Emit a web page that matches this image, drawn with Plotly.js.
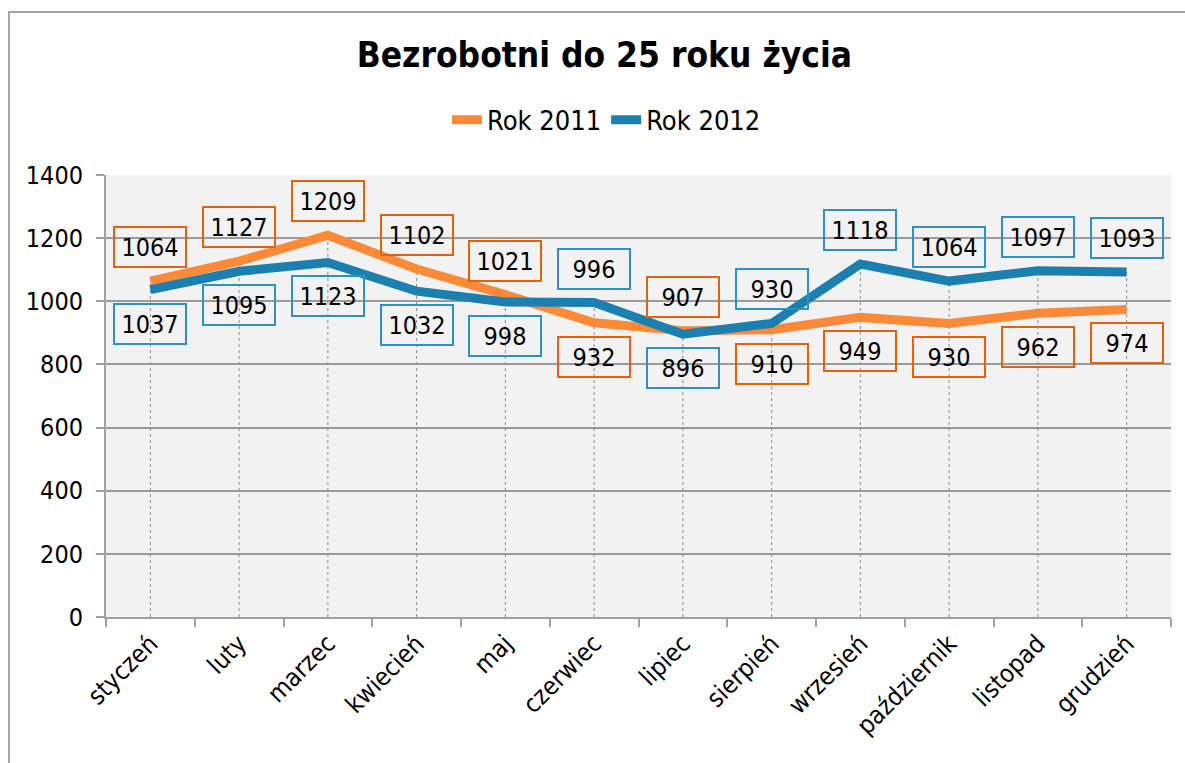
<!DOCTYPE html>
<html>
<head>
<meta charset="utf-8">
<script src="https://cdn.plot.ly/plotly-3.0.1.min.js"></script>
<style>
html,body{margin:0;padding:0;background:#fff;}
#chart{width:1185px;height:763px;}
</style>
</head>
<body>
<div id="chart"></div>
<script>
const months = ["styczeń","luty","marzec","kwiecień","maj","czerwiec","lipiec","sierpień","wrzesień","październik","listopad","grudzień"];
const rok2011 = [1064,1127,1209,1102,1021,932,907,910,949,930,962,974];
const rok2012 = [1037,1095,1123,1032,998,996,896,930,1118,1064,1097,1093];
const yTicks = [0,200,400,600,800,1000,1200,1400];
const seriesNames = ["Rok 2011","Rok 2012"];

const FONT = "'DejaVu Sans Condensed', 'DejaVu Sans', sans-serif";
const ORANGE = "#fb8a38";
const BLUE = "#1b7fb0";
const ORANGE_BOX = "#e5620c";
const BLUE_BOX = "#2e90c4";

// drop lines from axis to highest point of each month
const dropX = [], dropY = [];
months.forEach((m,i)=>{
  dropX.push(m,m,null);
  dropY.push(0, Math.max(rok2011[i], rok2012[i]), null);
});

const traces = [
  {x: dropX, y: dropY, mode:"lines", showlegend:false, hoverinfo:"skip",
   line:{color:"#8c8c8c", width:1, dash:"dot"}, connectgaps:false},
  {x: months, y: rok2011, name: seriesNames[0], mode:"lines",
   line:{color:ORANGE, width:9}},
  {x: months, y: rok2012, name: seriesNames[1], mode:"lines",
   line:{color:BLUE, width:9}}
];

const annotations = [];
months.forEach((m,i)=>{
  const a = rok2011[i], b = rok2012[i];
  const aAbove = a >= b;
  annotations.push({x:m, y:a, xref:"x", yref:"y", text:String(a), showarrow:false,
    yshift: aAbove ? 34 : -34, font:{family:FONT, size:25, color:"#000"},
    bordercolor:ORANGE_BOX, borderwidth:2, borderpad:5, width:60, height:28});
  annotations.push({x:m, y:b, xref:"x", yref:"y", text:String(b), showarrow:false,
    yshift: aAbove ? -34 : 34, font:{family:FONT, size:25, color:"#000"},
    bordercolor:BLUE_BOX, borderwidth:2, borderpad:5, width:60, height:28});
});

const layout = {
  width:1185, height:763,
  margin:{l:106, r:14, t:175, b:146, autoexpand:false},
  paper_bgcolor:"#ffffff",
  plot_bgcolor:"#f2f2f2",
  font:{family:FONT, size:25, color:"#000"},
  title:{text:"<b>Bezrobotni do 25 roku życia</b>", font:{family:FONT, size:35, color:"#000"},
    x:0.51, xanchor:"center", y:1-55/763, yanchor:"middle"},
  showlegend:true,
  legend:{orientation:"h", x:0.47, xanchor:"center", y:1.124, yanchor:"middle",
    font:{family:FONT, size:27, color:"#000"}, bgcolor:"rgba(0,0,0,0)", traceorder:"normal"},
  xaxis:{type:"category", categoryorder:"array", categoryarray:months, automargin:false,
    range:[-0.5, months.length-0.5], autorange:false,
    showgrid:false, tickson:"boundaries", ticks:"outside", ticklen:8, tickwidth:2, tickcolor:"#a0a0a0",
    showline:true, linecolor:"#a0a0a0", linewidth:2, tickangle:-45,
    tickfont:{family:FONT, size:25, color:"#000"}, zeroline:false, fixedrange:true},
  yaxis:{range:[0,1400], tickvals:yTicks, ticktext:yTicks.map(String), automargin:false,
    showgrid:true, gridcolor:"#9a9a9a", gridwidth:2,
    ticks:"outside", ticklen:8, tickwidth:2, tickcolor:"#a0a0a0",
    showline:true, linecolor:"#a0a0a0", linewidth:2, zeroline:false,
    tickfont:{family:FONT, size:25, color:"#000"}, ticklabelstandoff:8, fixedrange:true},
  annotations: annotations,
  shapes:[{type:"rect", xref:"paper", yref:"paper", x0:(9-106)/1065, x1:1.1, y0:-0.5, y1:(617-12)/442,
    line:{color:"#a6a6a6", width:2}, fillcolor:"rgba(0,0,0,0)", layer:"below"}]
};

Plotly.newPlot("chart", traces, layout, {displayModeBar:false, staticPlot:true});
</script>
</body>
</html>
